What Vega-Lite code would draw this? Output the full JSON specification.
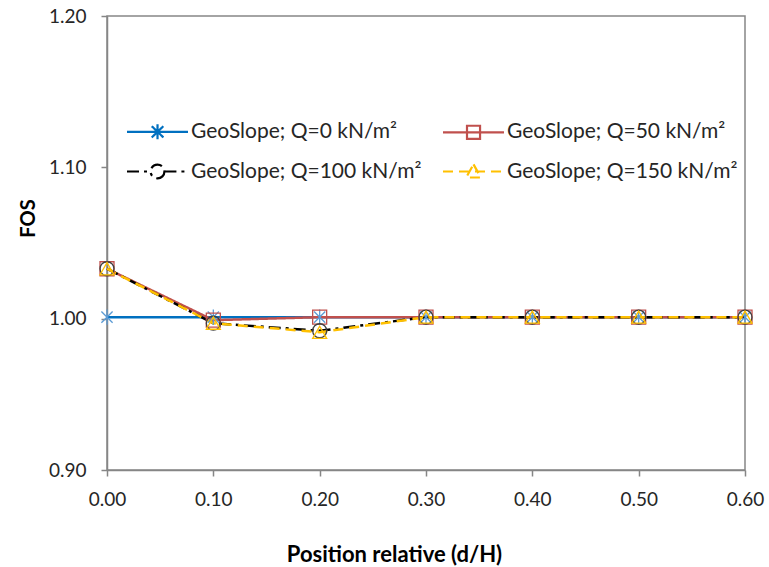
{
  "$schema": "https://vega.github.io/schema/vega-lite/v6.json",
  "width": 638,
  "height": 454,
  "autosize": {"type": "none"},
  "padding": {"left": 107, "top": 16, "right": 24, "bottom": 97},
  "background": "white",
  "config": {
    "font": "Lato",
    "view": {"stroke": "#868686", "strokeWidth": 1.5},
    "legend": {
      "title": null,
      "orient": "none",
      "legendX": 17,
      "legendY": 105,
      "columns": 2,
      "direction": "horizontal",
      "columnPadding": 16,
      "rowPadding": 15,
      "symbolSize": 225,
      "symbolStrokeWidth": 2.2,
      "labelOffset": 46,
      "labelFontSize": 21,
      "labelColor": "#262626",
      "labelLimit": 400
    }
  },
  "data": {
    "values": [
      {"d": 0.0, "fos": 1.001, "series": "GeoSlope; Q=0 kN/m²"},
      {"d": 0.1, "fos": 1.001, "series": "GeoSlope; Q=0 kN/m²"},
      {"d": 0.2, "fos": 1.001, "series": "GeoSlope; Q=0 kN/m²"},
      {"d": 0.3, "fos": 1.001, "series": "GeoSlope; Q=0 kN/m²"},
      {"d": 0.4, "fos": 1.001, "series": "GeoSlope; Q=0 kN/m²"},
      {"d": 0.5, "fos": 1.001, "series": "GeoSlope; Q=0 kN/m²"},
      {"d": 0.6, "fos": 1.001, "series": "GeoSlope; Q=0 kN/m²"},
      {"d": 0.0, "fos": 1.033, "series": "GeoSlope; Q=50 kN/m²"},
      {"d": 0.1, "fos": 0.999, "series": "GeoSlope; Q=50 kN/m²"},
      {"d": 0.2, "fos": 1.001, "series": "GeoSlope; Q=50 kN/m²"},
      {"d": 0.3, "fos": 1.001, "series": "GeoSlope; Q=50 kN/m²"},
      {"d": 0.4, "fos": 1.001, "series": "GeoSlope; Q=50 kN/m²"},
      {"d": 0.5, "fos": 1.001, "series": "GeoSlope; Q=50 kN/m²"},
      {"d": 0.6, "fos": 1.001, "series": "GeoSlope; Q=50 kN/m²"},
      {"d": 0.0, "fos": 1.033, "series": "GeoSlope; Q=100 kN/m²"},
      {"d": 0.1, "fos": 0.997, "series": "GeoSlope; Q=100 kN/m²"},
      {"d": 0.2, "fos": 0.992, "series": "GeoSlope; Q=100 kN/m²"},
      {"d": 0.3, "fos": 1.001, "series": "GeoSlope; Q=100 kN/m²"},
      {"d": 0.4, "fos": 1.001, "series": "GeoSlope; Q=100 kN/m²"},
      {"d": 0.5, "fos": 1.001, "series": "GeoSlope; Q=100 kN/m²"},
      {"d": 0.6, "fos": 1.001, "series": "GeoSlope; Q=100 kN/m²"},
      {"d": 0.0, "fos": 1.033, "series": "GeoSlope; Q=150 kN/m²"},
      {"d": 0.1, "fos": 0.997, "series": "GeoSlope; Q=150 kN/m²"},
      {"d": 0.2, "fos": 0.991, "series": "GeoSlope; Q=150 kN/m²"},
      {"d": 0.3, "fos": 1.001, "series": "GeoSlope; Q=150 kN/m²"},
      {"d": 0.4, "fos": 1.001, "series": "GeoSlope; Q=150 kN/m²"},
      {"d": 0.5, "fos": 1.001, "series": "GeoSlope; Q=150 kN/m²"},
      {"d": 0.6, "fos": 1.001, "series": "GeoSlope; Q=150 kN/m²"}
    ]
  },
  "encoding": {
    "x": {
      "field": "d",
      "type": "quantitative",
      "scale": {"domain": [0, 0.6], "nice": false, "zero": false},
      "axis": {
        "values": [0, 0.1, 0.2, 0.3, 0.4, 0.5, 0.6],
        "format": ".2f",
        "grid": false,
        "labelFlush": false,
        "domainColor": "#868686",
        "domainWidth": 1.5,
        "tickColor": "#868686",
        "tickWidth": 1.5,
        "tickSize": 6,
        "labelFontSize": 19,
        "labelColor": "#262626",
        "labelPadding": 14,
        "title": "Position relative (d/H)",
        "titleFontSize": 22,
        "titleFontWeight": "bold",
        "titleColor": "#000000",
        "titleX": 287,
        "titleY": 84,
        "titleBaseline": "middle",
        "titleAnchor": "middle"
      }
    },
    "y": {
      "field": "fos",
      "type": "quantitative",
      "scale": {"domain": [0.9, 1.2], "nice": false, "zero": false},
      "axis": {
        "values": [0.9, 1.0, 1.1, 1.2],
        "format": ".2f",
        "grid": false,
        "labelFlush": false,
        "domainColor": "#868686",
        "domainWidth": 1.5,
        "tickColor": "#868686",
        "tickWidth": 1.5,
        "tickSize": 6,
        "labelFontSize": 19,
        "labelColor": "#262626",
        "labelPadding": 15,
        "title": "FOS",
        "titleFontSize": 20,
        "titleFontWeight": "bold",
        "titleColor": "#000000",
        "titleX": -79,
        "titleY": 202,
        "titleBaseline": "middle",
        "titleAnchor": "middle"
      }
    }
  },
  "layer": [
    {
      "mark": {"type": "line", "strokeWidth": 2.5},
      "encoding": {
        "color": {
          "field": "series",
          "type": "nominal",
          "sort": null,
          "scale": {
            "domain": ["GeoSlope; Q=0 kN/m²", "GeoSlope; Q=50 kN/m²", "GeoSlope; Q=100 kN/m²", "GeoSlope; Q=150 kN/m²"],
            "range": ["#0070C0", "#C0504D", "#000000", "#FFC000"]
          }
        },
        "strokeDash": {
          "field": "series",
          "type": "nominal",
          "sort": null,
          "scale": {
            "domain": ["GeoSlope; Q=0 kN/m²", "GeoSlope; Q=50 kN/m²", "GeoSlope; Q=100 kN/m²", "GeoSlope; Q=150 kN/m²"],
            "range": [[1, 0], [1, 0], [12, 5, 3, 5], [10, 6]]
          }
        }
      }
    },
    {
      "transform": [{"filter": "false"}],
      "mark": {"type": "point", "filled": false, "strokeWidth": 2.2, "opacity": 1},
      "encoding": {
        "color": {"field": "series", "type": "nominal", "sort": null},
        "strokeDash": {"field": "series", "type": "nominal", "sort": null},
        "shape": {
          "field": "series",
          "type": "nominal",
          "sort": null,
          "scale": {
            "domain": ["GeoSlope; Q=0 kN/m²", "GeoSlope; Q=50 kN/m²", "GeoSlope; Q=100 kN/m²", "GeoSlope; Q=150 kN/m²"],
            "range": [
              "M-1,0L7.13,0M2.3,-0.75L3.85,0.75M2.3,0.75L3.85,-0.75M3.07,-1L3.07,1",
              "M-1,0L7.13,0M2.2,-0.87L3.94,-0.87L3.94,0.87L2.2,0.87Z",
              "M-1,0L2.15,0M3.99,0L7.13,0M3.99,0A0.92,0.92 0 1 1 2.15,0A0.92,0.92 0 1 1 3.99,0Z",
              "M-1,0L7.13,0M3.07,-0.95L4.05,0.8L2.09,0.8Z"
            ]
          }
        }
      }
    },
    {
      "transform": [{"filter": "datum.series == 'GeoSlope; Q=0 kN/m²'"}],
      "mark": {"type": "point", "filled": false, "strokeWidth": 1.3, "size": 196, "opacity": 1, "stroke": "#5B9BD5", "shape": "M-0.8,-0.8L0.8,0.8M-0.8,0.8L0.8,-0.8M0,-1.1L0,1.1"},
      "encoding": {}
    },
    {
      "transform": [{"filter": "datum.series == 'GeoSlope; Q=50 kN/m²'"}],
      "mark": {"type": "point", "filled": false, "strokeWidth": 1.3, "size": 196, "opacity": 1, "stroke": "#C0504D", "shape": "square"},
      "encoding": {}
    },
    {
      "transform": [{"filter": "datum.series == 'GeoSlope; Q=100 kN/m²'"}],
      "mark": {"type": "point", "filled": false, "strokeWidth": 1.3, "size": 196, "opacity": 1, "stroke": "#404040", "shape": "circle"},
      "encoding": {}
    },
    {
      "transform": [{"filter": "datum.series == 'GeoSlope; Q=150 kN/m²'"}],
      "mark": {"type": "point", "filled": false, "strokeWidth": 1.3, "size": 196, "opacity": 1, "stroke": "#FFC000", "shape": "triangle-up"},
      "encoding": {}
    }
  ]
}
